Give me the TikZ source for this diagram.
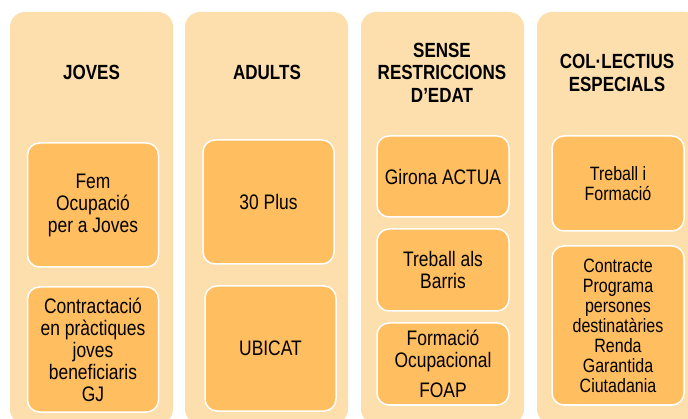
\documentclass[tikz,border=0pt]{standalone}
\usepackage{fontspec}
\setmainfont[FakeStretch=0.83]{Liberation Sans}
\usetikzlibrary{shapes}
\definecolor{peach}{RGB}{253,222,173}
\definecolor{apricot}{RGB}{255,190,96}
\tikzstyle{col} = [rectangle, fill=peach, rounded corners=15pt,
    minimum width=163pt, minimum height=412pt, inner sep=0pt]
\tikzstyle{hd} = [align=center, font=\bfseries\fontsize{20.5}{22.5}\selectfont]
\tikzstyle{prog} = [rectangle, draw=white, line width=1.5pt, fill=apricot,
    rounded corners=12pt, minimum width=131pt, inner sep=0pt,
    align=center, font=\fontsize{21}{22}\selectfont]
\tikzstyle{small} = [font=\fontsize{19.3}{20}\selectfont]

\begin{document}
\begin{tikzpicture}[x=1pt,y=-1pt]
  \useasboundingbox (0,0) rectangle (688,419);
  \clip (0,0) rectangle (688,419);

  % columns
  \node[col] (joves)  at (91.5,218) {};
  \node[col] (adults) at (266.5,218) {};
  \node[col] (sense)  at (442.5,218) {};
  \node[col] (colect) at (618.5,218) {};

  % headers
  \node[hd] (hjoves)  at (91.5,72.5)  {JOVES};
  \node[hd] (hadults) at (267,72.5)   {ADULTS};
  \node[hd] (hsense)  at (442,72.5)   {SENSE\\RESTRICCIONS\\D’EDAT};
  \node[hd] (hcolect) at (617,73)     {COL·LECTIUS\\ESPECIALS};

  % programmes
  \node[prog,minimum height=124pt] (fem)    at (93,205)    {Fem\\Ocupació\\per a Joves};
  \node[prog,minimum height=125pt] (contr)  at (93,349.5)  {Contractació\\en pràctiques\\joves\\beneficiaris\\GJ};
  \node[prog,minimum height=124pt] (plus)   at (268.5,202) {30 Plus};
  \node[prog,minimum height=125pt] (ubicat) at (270.5,348.5) {UBICAT};
  \node[prog,minimum width=132pt,minimum height=81pt] (girona) at (443,176.5) {Girona ACTUA};
  \node[prog,minimum width=132pt,minimum height=82pt] (barris) at (443,270)   {Treball als\\Barris};
  \node[prog,minimum width=132pt,minimum height=82pt] (foap)   at (443,364)   {Formació\\Ocupacional\\[8pt]FOAP};
  \node[prog,small,minimum width=132pt,minimum height=95pt]  (tif)  at (618,183.5) {Treball i\\Formació};
  \node[prog,small,minimum width=132pt,minimum height=159pt] (rgc)  at (618,325.5) {Contracte\\Programa\\persones\\destinatàries\\Renda\\Garantida\\Ciutadania};
\end{tikzpicture}
\end{document}
